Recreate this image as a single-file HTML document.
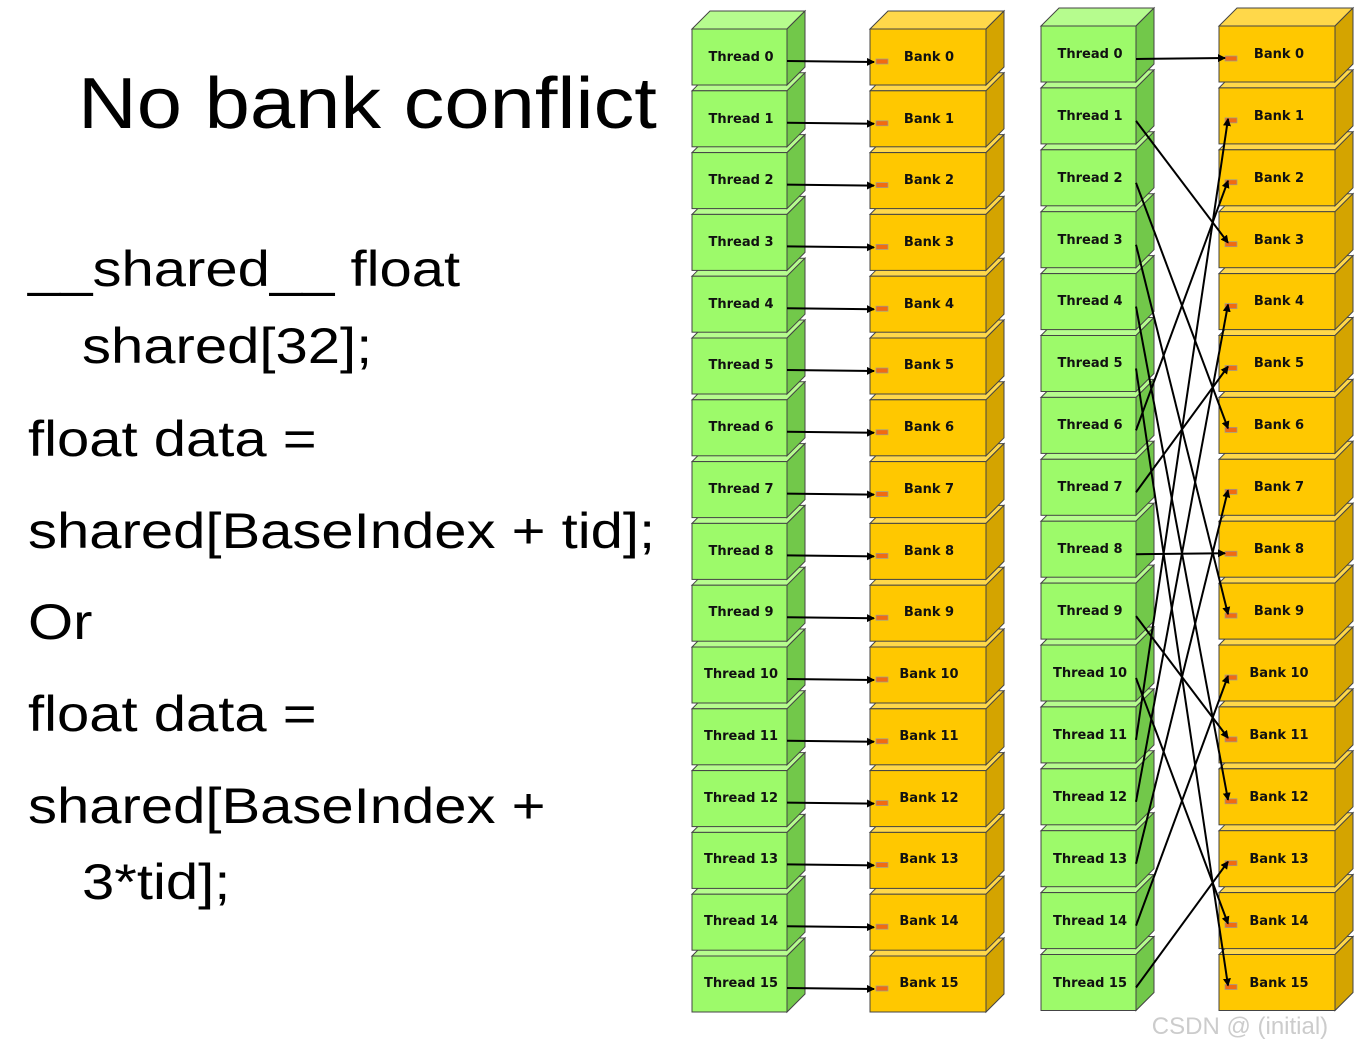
<!DOCTYPE html>
<html><head><meta charset="utf-8"><style>
body{margin:0;width:1359px;height:1048px;background:#fff;overflow:hidden;position:relative;font-family:"Liberation Sans",sans-serif}
.t{position:absolute;font-size:50px;color:#000;white-space:nowrap;line-height:1;transform-origin:0 0;transform:scaleX(1.16)}
svg{position:absolute;left:0;top:0}
svg text{font-family:"DejaVu Sans",sans-serif;font-weight:bold;font-size:13px;fill:#111;text-anchor:middle}
</style></head><body>
<div class="t" style="left:78px;top:68px;font-size:72px;transform:scaleX(1.13)">No bank conflict</div>
<div class="t" style="left:28px;top:244px">__shared__ float</div>
<div class="t" style="left:82px;top:321px">shared[32];</div>
<div class="t" style="left:28px;top:414px">float data =</div>
<div class="t" style="left:28px;top:506px">shared[BaseIndex + tid];</div>
<div class="t" style="left:28px;top:597px">Or</div>
<div class="t" style="left:28px;top:689px">float data =</div>
<div class="t" style="left:28px;top:781px">shared[BaseIndex +</div>
<div class="t" style="left:82px;top:857px">3*tid];</div>
<svg width="1359" height="1048" id="s">
<defs>
<marker id="a" markerWidth="8" markerHeight="8" refX="7" refY="4" orient="auto" markerUnits="userSpaceOnUse"><path d="M0,0L8,4L0,8z" fill="#000"/></marker>
</defs>
<g id="boxes"></g><g id="lines"></g>
<g>
<text x="741" y="61">Thread 0</text><text x="741" y="123">Thread 1</text><text x="741" y="184">Thread 2</text><text x="741" y="246">Thread 3</text><text x="741" y="308">Thread 4</text><text x="741" y="369">Thread 5</text><text x="741" y="431">Thread 6</text><text x="741" y="493">Thread 7</text><text x="741" y="555">Thread 8</text><text x="741" y="616">Thread 9</text><text x="741" y="678">Thread 10</text><text x="741" y="740">Thread 11</text><text x="741" y="802">Thread 12</text><text x="741" y="863">Thread 13</text><text x="741" y="925">Thread 14</text><text x="741" y="987">Thread 15</text>
<text x="929" y="61">Bank 0</text><text x="929" y="123">Bank 1</text><text x="929" y="184">Bank 2</text><text x="929" y="246">Bank 3</text><text x="929" y="308">Bank 4</text><text x="929" y="369">Bank 5</text><text x="929" y="431">Bank 6</text><text x="929" y="493">Bank 7</text><text x="929" y="555">Bank 8</text><text x="929" y="616">Bank 9</text><text x="929" y="678">Bank 10</text><text x="929" y="740">Bank 11</text><text x="929" y="802">Bank 12</text><text x="929" y="863">Bank 13</text><text x="929" y="925">Bank 14</text><text x="929" y="987">Bank 15</text>
<text x="1090" y="58">Thread 0</text><text x="1090" y="120">Thread 1</text><text x="1090" y="182">Thread 2</text><text x="1090" y="244">Thread 3</text><text x="1090" y="305">Thread 4</text><text x="1090" y="367">Thread 5</text><text x="1090" y="429">Thread 6</text><text x="1090" y="491">Thread 7</text><text x="1090" y="553">Thread 8</text><text x="1090" y="615">Thread 9</text><text x="1090" y="677">Thread 10</text><text x="1090" y="739">Thread 11</text><text x="1090" y="801">Thread 12</text><text x="1090" y="863">Thread 13</text><text x="1090" y="925">Thread 14</text><text x="1090" y="987">Thread 15</text>
<text x="1279" y="58">Bank 0</text><text x="1279" y="120">Bank 1</text><text x="1279" y="182">Bank 2</text><text x="1279" y="244">Bank 3</text><text x="1279" y="305">Bank 4</text><text x="1279" y="367">Bank 5</text><text x="1279" y="429">Bank 6</text><text x="1279" y="491">Bank 7</text><text x="1279" y="553">Bank 8</text><text x="1279" y="615">Bank 9</text><text x="1279" y="677">Bank 10</text><text x="1279" y="739">Bank 11</text><text x="1279" y="801">Bank 12</text><text x="1279" y="863">Bank 13</text><text x="1279" y="925">Bank 14</text><text x="1279" y="987">Bank 15</text>
</g>
<text x="1240" y="1034" style="font-family:'Liberation Sans',sans-serif;font-weight:normal;font-size:24px;fill:#ccc">CSDN @  (initial)</text>
</svg>
<script>
var NS="http://www.w3.org/2000/svg",B=document.getElementById("boxes"),L=document.getElementById("lines");
function el(p,t,a){var e=document.createElementNS(NS,t);for(var k in a)e.setAttribute(k,a[k]);p.appendChild(e);return e}
function box(x,yc,w,c1,c2,c3,mark){var y=yc-28,h=56,d=18;
el(B,"polygon",{points:[x,y,x+d,y-d,x+w+d,y-d,x+w,y].join(","),fill:c2,stroke:"#444","stroke-width":1});
el(B,"polygon",{points:[x+w,y,x+w+d,y-d,x+w+d,y+h-d,x+w,y+h].join(","),fill:c3,stroke:"#444","stroke-width":1});
el(B,"rect",{x:x,y:y,width:w,height:h,fill:c1,stroke:"#444","stroke-width":1});
if(mark)el(B,"rect",{x:x+6,y:yc+2,width:12,height:5,fill:"#f26b10",stroke:"#999","stroke-width":0.7});}
function line(x1,y1,x2,y2){el(L,"line",{x1:x1,y1:y1,x2:x2,y2:y2,stroke:"#000","stroke-width":2,"marker-end":"url(#a)"})}
var G=["#9dfa6a","#b6fc8e","#72c84a"],Y=["#ffc800","#ffd84a","#d4a400"];
for(var i=15;i>=0;i--){
 var yl=57+61.8*i, yr=54+61.9*i;
 box(692,yl,95,G[0],G[1],G[2],false);box(870,yl,116,Y[0],Y[1],Y[2],true);
 box(1041,yr,95,G[0],G[1],G[2],false);box(1219,yr,116,Y[0],Y[1],Y[2],true);
}
for(var i=0;i<16;i++){
 var yl=57+61.8*i; line(787,yl+4,874,yl+5);
 var b=(3*i)%16, y1=54+61.9*i, y2=54+61.9*b;
 if(b==i) line(1136,y1+5,1225,y2+4);
 else line(1136,y1+5,1228,y2+3);
}
</script>
</body></html>
